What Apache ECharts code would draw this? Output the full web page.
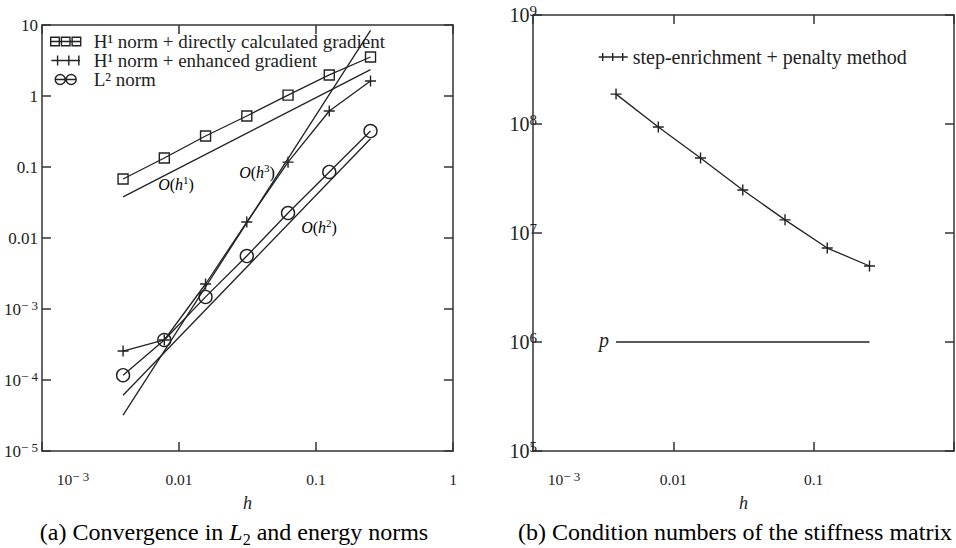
<!DOCTYPE html>
<html>
<head>
<meta charset="utf-8">
<title>Convergence and condition numbers</title>
<script src="https://cdn.jsdelivr.net/npm/echarts@6.0.0/dist/echarts.min.js"></script>
<style>
  html, body { margin: 0; padding: 0; background: #fff; }
  #main { width: 956px; height: 548px; }
</style>
</head>
<body>
<div id="main"></div>
<script>
// mesh sizes h = 1/256 ... 1/4
const h = [1 / 256, 1 / 128, 1 / 64, 1 / 32, 1 / 16, 1 / 8, 1 / 4];

// (a) error norms
const h1Direct = [0.0678, 0.134, 0.273, 0.523, 1.03, 1.98, 3.54];
const h1Enhanced = [2.56e-4, 3.66e-4, 2.25e-3, 0.0168, 0.117, 0.615, 1.63];
const l2Norm = [1.17e-4, 3.66e-4, 1.48e-3, 5.57e-3, 0.0225, 0.0851, 0.321];

// reference slopes, end points only
const refH = [1 / 256, 1 / 4];
const refO1 = [0.038, 2.35];
const refO2 = [6.1e-5, 0.25];
const refO3 = [3.2e-5, 8.4];

// (b) condition numbers
const condNumber = [1.88e8, 9.4e7, 4.88e7, 2.48e7, 1.32e7, 7.28e6, 4.98e6];
const penaltyP = [1e6, 1e6];

// tick labels
const hTickLabelsA = ['{f|10}{s|− 3}', '{b|0.01}', '{b|0.1}', '{b|1}'];
const hTickLabelsB = ['{f|10}{s|− 3}', '{b|0.01}', '{b|0.1}', ''];
const errTickLabels = ['{b|10}{s|− 5}', '{b|10}{s|− 4}', '{b|10}{s|− 3}', '{b|0.01}', '{b|0.1}', '{b|1}', '{b|10}'];
const condTickLabels = ['{b|10}{s|5}', '{b|10}{s|6}', '{b|10}{s|7}', '{b|10}{s|8}', '{b|10}{s|9}'];

const FONT = 'Liberation Serif';
const INK = '#222';

const chart = echarts.init(document.getElementById('main'), null, { renderer: 'svg' });

function pairs(xs, ys) {
    return xs.map((x, i) => [x, ys[i]]);
}

function tickRich(size, supSize, shift) {
    return {
        b: { fontFamily: FONT, fontSize: size, color: INK, lineHeight: size + 4 },
        f: { fontFamily: FONT, fontSize: size, color: INK, lineHeight: size + 4, padding: [0, 0, 0, shift] },
        s: { fontFamily: FONT, fontSize: supSize, color: INK, verticalAlign: 'top' }
    };
}

const frameLine = { show: true, lineStyle: { color: '#333', width: 1.5 } };
const frameTick = { show: true, inside: true, length: 9, lineStyle: { color: '#333', width: 1.5 } };

function xAxisPair(grid, labels) {
    return [{
        type: 'log', logBase: 10, gridIndex: grid, min: 0.001, max: 1, position: 'bottom',
        axisLine: frameLine, axisTick: frameTick, splitLine: { show: false },
        axisLabel: {
            margin: 19, showMinLabel: true, showMaxLabel: true,
            formatter: (v, i) => labels[i], rich: tickRich(15.5, 13, 62)
        },
        name: 'h', nameLocation: 'middle', nameGap: 43,
        nameTextStyle: { fontFamily: FONT, fontSize: 18, fontStyle: 'italic', color: INK }
    }, {
        type: 'log', logBase: 10, gridIndex: grid, min: 0.001, max: 1, position: 'top',
        axisLine: frameLine, axisTick: frameTick, splitLine: { show: false },
        axisLabel: { show: false }
    }];
}

function yAxisPair(grid, min, max, labels, margin, size, supSize) {
    return [{
        type: 'log', logBase: 10, gridIndex: grid, min: min, max: max, position: 'left',
        axisLine: frameLine, axisTick: frameTick, splitLine: { show: false },
        axisLabel: {
            margin: margin, showMinLabel: true, showMaxLabel: true,
            formatter: (v, i) => labels[i], rich: tickRich(size, supSize, 0)
        }
    }, {
        type: 'log', logBase: 10, gridIndex: grid, min: min, max: max, position: 'right',
        axisLine: frameLine, axisTick: frameTick, splitLine: { show: false },
        axisLabel: { show: false }
    }];
}

const hollow = { color: 'rgba(0,0,0,0)', borderColor: INK, borderWidth: 1.4 };
const lineStyle = { color: INK, width: 1.3 };
const crossSymbol = 'path://M0,5h10M5,0v10';

function refLine(name, ys) {
    return {
        name: name, type: 'line', xAxisIndex: 0, yAxisIndex: 0,
        data: pairs(refH, ys), showSymbol: false, symbol: 'none',
        lineStyle: lineStyle, silent: true
    };
}

const supRich = {
    i: { fontFamily: FONT, fontSize: 16, fontStyle: 'italic', color: INK, lineHeight: 19 },
    r: { fontFamily: FONT, fontSize: 16, color: INK, lineHeight: 19 },
    s: { fontFamily: FONT, fontSize: 11, color: INK, verticalAlign: 'top' }
};

function note(x, y, text) {
    return {
        type: 'text', x: x, y: y, silent: true,
        style: { text: text, rich: supRich, align: 'center', verticalAlign: 'middle' }
    };
}

const captionRich = {
    r: { fontFamily: FONT, fontSize: 24, color: '#111', lineHeight: 30 },
    i: { fontFamily: FONT, fontSize: 24, fontStyle: 'italic', color: '#111', lineHeight: 30 },
    sub: { fontFamily: FONT, fontSize: 16, color: '#111', verticalAlign: 'bottom' }
};

const option = {
    backgroundColor: '#fff',
    animation: false,
    grid: [
        { left: 42, top: 25, width: 411, height: 426, outerBoundsMode: 'none' },
        { left: 533, top: 15, width: 421, height: 436, outerBoundsMode: 'none' }
    ],
    xAxis: [...xAxisPair(0, hTickLabelsA), ...xAxisPair(1, hTickLabelsB)],
    yAxis: [
        ...yAxisPair(0, 1e-5, 10, errTickLabels, 4, 17, 13),
        ...yAxisPair(1, 1e5, 1e9, condTickLabels, -4, 20, 15)
    ],
    legend: [{
        left: 45, top: 27, orient: 'vertical', itemGap: 0, itemWidth: 30, itemHeight: 10,
        selectedMode: false,
        textStyle: { fontFamily: FONT, fontSize: 19, color: INK, lineHeight: 14, padding: [0, 0, 0, 8] },
        data: [
            { name: 'H¹ norm + directly calculated gradient', icon: 'path://M0,0h8v8h-8zM10,0h8v8h-8zM20,0h8v8h-8zM0,4h28', itemStyle: hollow },
            { name: 'H¹ norm + enhanced gradient', icon: 'path://M0,4h23M5,0v8M14,0v8M22,0v8', itemStyle: hollow },
            { name: 'L² norm', icon: 'path://M0,5a5,5 0 1,0 10,0a5,5 0 1,0 -10,0M11,5a5,5 0 1,0 10,0a5,5 0 1,0 -10,0M0,5h21', itemStyle: hollow }
        ]
    }, {
        left: 593, top: 42, orient: 'vertical', itemWidth: 29, itemHeight: 9,
        selectedMode: false,
        textStyle: { fontFamily: FONT, fontSize: 20, color: INK, lineHeight: 14 },
        data: [
            { name: 'step-enrichment + penalty method', icon: 'path://M0,4h29M4,0v8M14,0v8M24,0v8', itemStyle: hollow }
        ]
    }],
    series: [{
        name: 'H¹ norm + directly calculated gradient', type: 'line', xAxisIndex: 0, yAxisIndex: 0,
        data: pairs(h, h1Direct), symbol: 'rect', symbolSize: 10,
        itemStyle: hollow, lineStyle: lineStyle
    }, {
        name: 'H¹ norm + enhanced gradient', type: 'line', xAxisIndex: 0, yAxisIndex: 0,
        data: pairs(h, h1Enhanced), symbol: crossSymbol, symbolSize: 11,
        itemStyle: hollow, lineStyle: lineStyle
    }, {
        name: 'L² norm', type: 'line', xAxisIndex: 0, yAxisIndex: 0,
        data: pairs(h, l2Norm), symbol: 'circle', symbolSize: 13,
        itemStyle: hollow, lineStyle: lineStyle
    },
    refLine('O(h1)', refO1),
    refLine('O(h2)', refO2),
    refLine('O(h3)', refO3),
    {
        name: 'step-enrichment + penalty method', type: 'line', xAxisIndex: 2, yAxisIndex: 2,
        data: pairs(h, condNumber), symbol: crossSymbol, symbolSize: 11,
        itemStyle: hollow, lineStyle: lineStyle
    }, {
        name: 'p', type: 'line', xAxisIndex: 2, yAxisIndex: 2,
        data: pairs(refH, penaltyP), showSymbol: false, symbol: 'none',
        lineStyle: lineStyle, silent: true
    }],
    graphic: [
        note(176, 184, '{i|O}{r|(}{i|h}{s|1}{r|)}'),
        note(257, 172, '{i|O}{r|(}{i|h}{s|3}{r|)}'),
        note(319, 227, '{i|O}{r|(}{i|h}{s|2}{r|)}'),
        {
            type: 'text', x: 604, y: 340, silent: true,
            style: { text: 'p', fontFamily: FONT, fontSize: 20, fontStyle: 'italic', fill: INK, align: 'center', verticalAlign: 'middle' }
        },
        {
            type: 'text', x: 234, y: 532, silent: true,
            style: { text: '{r|(a) Convergence in }{i|L}{sub|2}{r| and energy norms}', rich: captionRich, align: 'center', verticalAlign: 'middle' }
        },
        {
            type: 'text', x: 735, y: 532, silent: true,
            style: { text: '{r|(b) Condition numbers of the stiffness matrix}', rich: captionRich, align: 'center', verticalAlign: 'middle' }
        }
    ]
};

chart.setOption(option);
</script>
</body>
</html>
